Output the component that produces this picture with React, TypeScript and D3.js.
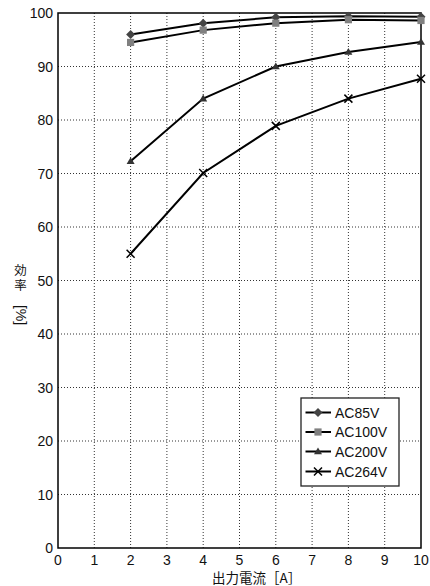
import React from "react";
import * as d3 from "d3";

const xValues = [2, 4, 6, 8, 10];
const seriesNames = ["AC85V", "AC100V", "AC200V", "AC264V"];
const ac85 = [96.0, 98.1, 99.2, 99.4, 99.3];
const ac100 = [94.5, 96.8, 98.1, 98.75, 98.6];
const ac200 = [72.3, 84.0, 90.0, 92.7, 94.6];
const ac264 = [55.0, 70.1, 78.9, 84.0, 87.7];
const xTicks = [0, 1, 2, 3, 4, 5, 6, 7, 8, 9, 10];
const yTicks = [0, 10, 20, 30, 40, 50, 60, 70, 80, 90, 100];

const W = 430, H = 586;
const L = 58, R = 421, T = 13, B = 548;
const FONT = "'Liberation Sans', Arial, sans-serif";
const CJK = "'Noto Sans CJK JP', sans-serif";

const markerTypes = ["diamond", "square", "triangle", "x"];
const markerFills = ["#444444", "#808080", "#333333", "#000000"];

function Marker({ type, x, y, fill }: { type: string; x: number; y: number; fill: string }) {
  if (type === "diamond") {
    const s = 4.5;
    return <path d={`M${x},${y - s}L${x + s},${y}L${x},${y + s}L${x - s},${y}Z`} fill={fill} />;
  }
  if (type === "square") {
    const s = 3.6;
    return <rect x={x - s} y={y - s} width={2 * s} height={2 * s} fill={fill} />;
  }
  if (type === "triangle") {
    const s = 4;
    return <path d={`M${x},${y - s}L${x + s},${y + s * 0.7}L${x - s},${y + s * 0.7}Z`} fill={fill} />;
  }
  const s = 4;
  return (
    <path d={`M${x - s},${y - s}L${x + s},${y + s}M${x - s},${y + s}L${x + s},${y - s}`} stroke={fill} strokeWidth={1.5} />
  );
}

export default function App() {
  const x = d3.scaleLinear().domain([0, 10]).range([L, R]);
  const y = d3.scaleLinear().domain([0, 100]).range([B, T]);
  const data = [ac85, ac100, ac200, ac264];
  const line = d3
    .line<number>()
    .x((_, i) => x(xValues[i]))
    .y((d) => y(d));

  const legX = 301, legY = 398, legW = 98, legH = 88;
  const legRows = [412.5, 432, 451.5, 471.5];

  return (
    <svg width={W} height={H} style={{ position: "absolute", left: 0, top: 0, background: "#fff" }}>
      <rect width={W} height={H} fill="#fff" />
      {/* grid */}
      {xTicks.slice(1, -1).map((t) => (
        <line key={"gx" + t} x1={x(t)} x2={x(t)} y1={T} y2={B} stroke="#333" strokeWidth={1} strokeDasharray="1,2" />
      ))}
      {yTicks.slice(1, -1).map((t) => (
        <line key={"gy" + t} x1={L} x2={R} y1={y(t)} y2={y(t)} stroke="#333" strokeWidth={1} strokeDasharray="1,2" />
      ))}
      {/* frame */}
      <rect x={L} y={T} width={R - L} height={B - T} fill="none" stroke="#000" strokeWidth={1.5} />
      {/* tick labels */}
      {yTicks.map((t) => (
        <text key={"yl" + t} x={53} y={y(t) + 1.5} textAnchor="end" dominantBaseline="middle" fontFamily={FONT} fontSize={14} fill="#111">
          {t}
        </text>
      ))}
      {xTicks.map((t) => (
        <text key={"xl" + t} x={x(t)} y={565} textAnchor="middle" fontFamily={FONT} fontSize={14} fill="#111">
          {t}
        </text>
      ))}
      {/* axis titles */}
      <text x={212} y={583} fontFamily={CJK} fontSize={13.5} fill="#111">
        出力電流［A］
      </text>
      <text x={20.5} y={264} fontFamily={CJK} fontSize={12.5} fill="#111" letterSpacing={2} style={{ writingMode: "vertical-rl" }}>
        効率
      </text>
      <text x={20.5} y={315} textAnchor="middle" dominantBaseline="central" fontFamily={FONT} fontSize={14} fill="#111" transform="rotate(90 20.5 315)">
        [%]
      </text>
      {/* series */}
      {data.map((d, si) => (
        <g key={"s" + si}>
          <path d={line(d) || ""} fill="none" stroke="#000" strokeWidth={2} />
          {d.map((v, i) => (
            <Marker key={i} type={markerTypes[si]} x={x(xValues[i])} y={y(v)} fill={markerFills[si]} />
          ))}
        </g>
      ))}
      {/* legend */}
      <rect x={legX} y={legY} width={legW} height={legH} fill="#fff" stroke="#222" strokeWidth={1.3} />
      {seriesNames.map((n, i) => (
        <g key={"lg" + i}>
          <line x1={305.5} x2={331} y1={legRows[i]} y2={legRows[i]} stroke="#000" strokeWidth={2} />
          <Marker type={markerTypes[i]} x={318} y={legRows[i]} fill={markerFills[i]} />
          <text x={335} y={legRows[i] + 5} fontFamily={FONT} fontSize={14} fill="#111">
            {n}
          </text>
        </g>
      ))}
    </svg>
  );
}
